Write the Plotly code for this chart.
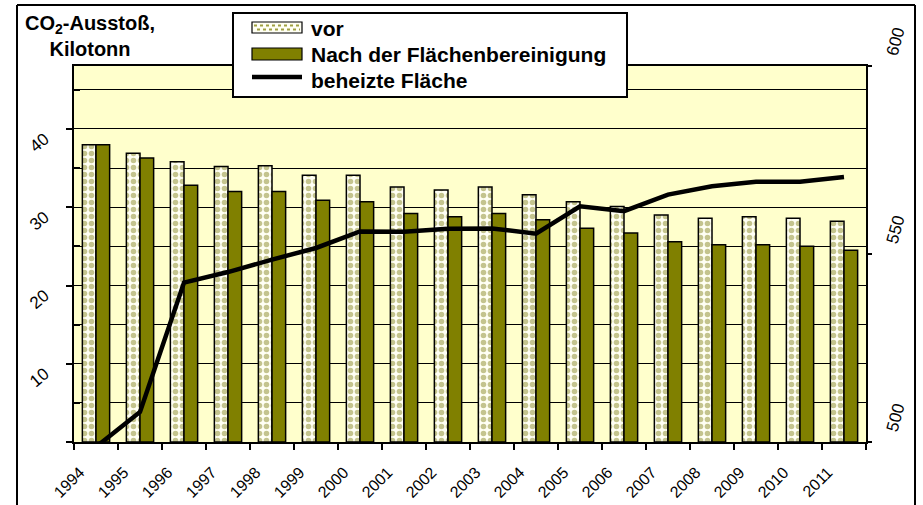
import plotly.graph_objects as go

# ---------------- data ----------------
years = [1994, 1995, 1996, 1997, 1998, 1999, 2000, 2001, 2002,
         2003, 2004, 2005, 2006, 2007, 2008, 2009, 2010, 2011]
vor = [38.0, 36.9, 35.8, 35.2, 35.3, 34.1, 34.1, 32.6, 32.2,
       32.6, 31.6, 30.7, 30.1, 29.0, 28.6, 28.8, 28.6, 28.2]
nach = [38.0, 36.3, 32.8, 32.0, 32.0, 30.9, 30.7, 29.2, 28.8,
        29.2, 28.4, 27.3, 26.7, 25.6, 25.2, 25.2, 25.0, 24.5]
flaeche = [498.7, 508.0, 542.4, 545.2, 548.5, 551.6, 556.0, 555.9, 556.7,
           556.8, 555.4, 562.7, 561.4, 565.8, 568.0, 569.2, 569.2, 570.5]

left_ticks = [0, 10, 20, 30, 40]
left_labels = ["", "10", "20", "30", "40"]
left_minor = [5, 15, 25, 35, 45]
right_ticks = [500, 550, 600]
right_labels = ["500", "550", "600"]

name_vor = "vor"
name_nach = "Nach der Flächenbereinigung"
name_line = "beheizte Fläche"
ytitle = "CO<sub>2</sub>-Ausstoß,<br>Kilotonn"

# ---------------- layout constants ----------------
W, H = 923, 505
ML, MR, MT, MB = 74, 57, 66, 63
PW, PH = W - ML - MR, H - MT - MB
FONT = "Arial, Liberation Sans, sans-serif"
OLIVE = "#808000"


def px(x):
    return (x - ML) / PW


def py(y):
    return (H - MB - y) / PH


x_bounds = [y - 0.5 for y in years] + [years[-1] + 0.5]
x_text = [str(y) for y in years] + [""]

fig = go.Figure()
fig.add_trace(go.Bar(
    x=years, y=vor, name=name_vor, showlegend=False,
    marker=dict(color="#FFFFF4", line=dict(color="black", width=1.5),
                pattern=dict(shape=".", fgcolor="#8A8A28", bgcolor="#FFFFF4",
                             size=7, solidity=0.5)),
))
fig.add_trace(go.Bar(
    x=years, y=nach, name=name_nach, showlegend=False,
    marker=dict(color=OLIVE, line=dict(color="black", width=1.5)),
))
fig.add_trace(go.Scatter(
    x=years, y=flaeche, name=name_line, yaxis="y2", mode="lines",
    showlegend=False, line=dict(color="black", width=4.5),
))

fig.update_layout(
    width=W, height=H,
    margin=dict(l=ML, r=MR, t=MT, b=MB, pad=0, autoexpand=False),
    paper_bgcolor="white", plot_bgcolor="#FFFFCC",
    font=dict(family=FONT, size=17, color="black"),
    barmode="group", bargap=0.38, bargroupgap=0,
    xaxis=dict(
        range=[years[0] - 0.5, years[-1] + 0.5], automargin=False,
        tickmode="array", tickvals=x_bounds, ticktext=x_text,
        tickangle=-45, ticks="outside", ticklen=6, tickwidth=1.5, tickcolor="black",
        showline=True, linecolor="black", linewidth=1.5, mirror=True,
        showgrid=False, zeroline=False, tickfont=dict(size=16),
        ticklabelshift=6, ticklabelstandoff=7,
    ),
    yaxis=dict(
        range=[0, 48.05], automargin=False,
        tickmode="array", tickvals=left_ticks, ticktext=left_labels,
        tickangle=-40, ticks="outside", ticklen=6, tickwidth=1.5, tickcolor="black",
        showline=True, linecolor="black", linewidth=1.5,
        showgrid=True, gridcolor="black", gridwidth=1.2, zeroline=False,
        ticklabelshift=8, ticklabelstandoff=18,
        minor=dict(tickvals=left_minor, showgrid=True, gridcolor="black", gridwidth=1.2,
                   ticks="inside", ticklen=6, tickcolor="black"),
        tickfont=dict(size=17),
    ),
    yaxis2=dict(
        range=[500, 600], overlaying="y", side="right", automargin=False,
        tickmode="array", tickvals=right_ticks, ticktext=right_labels,
        tickangle=-75, ticks="outside", ticklen=4, tickwidth=1.5, tickcolor="black",
        showline=True, linecolor="black", linewidth=1.5,
        showgrid=False, zeroline=False, ticklabelshift=-9, ticklabelstandoff=14,
        tickfont=dict(size=17),
    ),
)

shapes = []
# outer chart frame
for (x0, y0, x1, y1) in [(17, 5, 17, 510), (17, 5, 915, 5), (915, 5, 915, 510)]:
    shapes.append(dict(type="line", xref="paper", yref="paper",
                       x0=px(x0), y0=py(y0), x1=px(x1), y1=py(y1),
                       line=dict(color="black", width=2), layer="above"))
# legend box
shapes.append(dict(type="rect", xref="paper", yref="paper",
                   x0=px(233), y0=py(13), x1=px(627), y1=py(97),
                   fillcolor="white", line=dict(color="black", width=2), layer="above"))
# legend swatch: vor
shapes.append(dict(type="rect", xref="paper", yref="paper",
                   x0=px(252), y0=py(22), x1=px(302), y1=py(33),
                   fillcolor="#FFFFF4", line=dict(color="black", width=1.2), layer="above"))
for yy, xs in [(25.5, 254), (29.5, 257)]:
    shapes.append(dict(type="line", xref="paper", yref="paper",
                       x0=px(xs), y0=py(yy), x1=px(300), y1=py(yy),
                       line=dict(color="#A0A040", width=2, dash="3px,3px"), layer="above"))
# legend swatch: nach
shapes.append(dict(type="rect", xref="paper", yref="paper",
                   x0=px(252), y0=py(48), x1=px(302), y1=py(60),
                   fillcolor=OLIVE, line=dict(color="black", width=1.2), layer="above"))
# legend swatch: line
shapes.append(dict(type="line", xref="paper", yref="paper",
                   x0=px(252), y0=py(77), x1=px(302), y1=py(77),
                   line=dict(color="black", width=4.5), layer="above"))
fig.update_layout(shapes=shapes)

annotations = []
for txt, yc in [(name_vor, 28), (name_nach, 54), (name_line, 80)]:
    annotations.append(dict(text="<b>" + txt + "</b>", xref="paper", yref="paper",
                            x=px(309), y=py(yc), xanchor="left", yanchor="middle",
                            showarrow=False, font=dict(size=21, family=FONT)))
annotations.append(dict(text="<b>" + ytitle + "</b>", xref="paper", yref="paper",
                        x=px(90), y=py(10), xanchor="center", yanchor="top",
                        align="center", showarrow=False,
                        font=dict(size=20, family=FONT)))
fig.update_layout(annotations=annotations)

fig.write_html("out.html", config={"displayModeBar": False},
               post_script="document.body.style.margin='0px';document.body.style.overflow='hidden';")
